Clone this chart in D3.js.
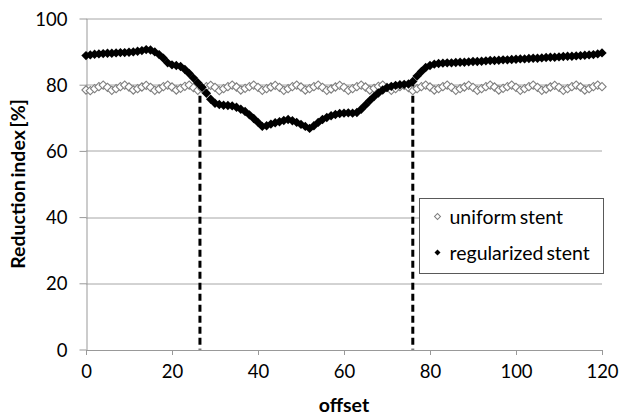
<!DOCTYPE html>
<html>
<head>
<meta charset="utf-8">
<script src="https://cdn.jsdelivr.net/npm/d3@7"></script>
<style>
  body { margin: 0; background: #fff; }
  text { font-family: Lato, "Open Sans", sans-serif; fill: #000; }
</style>
</head>
<body>
<svg id="chart" width="619" height="418"></svg>
<script>
// offsets 0..120, one value per offset
const offsets = d3.range(0, 121)

const uniformStent = [
  78.4, 78.2, 78.8, 79.4, 79.9,
  79.2, 78.3, 78.8, 79.4, 79.9,
  79.3, 78.4, 78.8, 79.3, 79.8,
  79.2, 78.3, 78.7, 79.4, 79.9,
  79.3, 78.4, 78.9, 79.5, 79.9,
  79.1, 78.3, 78.8, 79.4, 79.8,
  79.2, 78.2, 78.8, 79.4, 79.9,
  79.3, 78.4, 78.9, 79.4, 79.9,
  79.2, 78.3, 78.8, 79.3, 79.8,
  79.2, 78.3, 78.8, 79.4, 79.9,
  79.3, 78.4, 78.8, 79.4, 79.9,
  79.2, 78.3, 78.7, 79.3, 79.8,
  79.2, 78.3, 78.8, 79.4, 79.9,
  79.3, 78.4, 78.9, 79.5, 79.9,
  79.2, 78.3, 78.8, 79.4, 79.8,
  79.1, 78.2, 78.8, 79.4, 79.9,
  79.3, 78.4, 78.8, 79.4, 79.9,
  79.2, 78.3, 78.8, 79.3, 79.8,
  79.2, 78.3, 78.8, 79.4, 79.9,
  79.3, 78.4, 78.9, 79.4, 79.9,
  79.2, 78.3, 78.8, 79.4, 79.9,
  79.2, 78.3, 78.7, 79.3, 79.8,
  79.2, 78.3, 78.8, 79.4, 79.9,
  79.3, 78.4, 78.8, 79.4, 79.9,
  79.4
]

const regularizedStent = [
  88.8, 89.0, 89.2, 89.3, 89.4, 89.5, 89.5, 89.6, 89.7, 89.7,
  89.8, 89.9, 90.1, 90.3, 90.6, 90.5, 89.9, 89.1, 88.0, 86.6,
  86.0, 85.8, 85.5, 84.6, 83.4, 82.0, 80.6, 79.2, 77.4, 75.6,
  74.4, 74.0, 73.8, 73.7, 73.6, 73.2, 72.6, 71.9, 70.9, 69.8,
  68.6, 67.4, 67.6, 68.1, 68.5, 68.8, 69.2, 69.5, 69.1, 68.6,
  68.0, 67.4, 66.8, 67.6, 68.6, 69.5, 70.1, 70.6, 71.0, 71.3,
  71.4, 71.5, 71.4, 71.6, 72.6, 73.9, 75.2, 76.4, 77.5, 78.4,
  79.1, 79.5, 79.8, 80.0, 80.1, 80.2, 81.0, 82.6, 84.0, 85.2,
  85.8, 86.2, 86.4, 86.5, 86.6, 86.6, 86.7, 86.8, 86.8, 86.9,
  87.0, 87.0, 87.1, 87.2, 87.3, 87.3, 87.4, 87.5, 87.5, 87.6,
  87.7, 87.8, 87.8, 87.9, 88.0, 88.0, 88.1, 88.2, 88.3, 88.3,
  88.4, 88.5, 88.6, 88.6, 88.7, 88.8, 88.9, 89.0, 89.1, 89.3,
  89.6
]

// dashed markers where the curves cross
const crossings = [26.5, 76]
const crossingValue = 80

const xTicks = [0, 20, 40, 60, 80, 100, 120]
const yTicks = [0, 20, 40, 60, 80, 100]
const seriesNames = ['uniform stent', 'regularized stent']

const svg = d3.select('#chart')
const margin = { left: 86, right: 17, top: 18.5, bottom: 68.5 }
const width = 619 - margin.left - margin.right
const height = 418 - margin.top - margin.bottom

const x = d3.scaleLinear().domain([0, 120]).range([0, width])
const y = d3.scaleLinear().domain([0, 100]).range([height, 0])

const g = svg.append('g').attr('transform', `translate(${margin.left},${margin.top})`)

// gridlines
g.append('g')
  .selectAll('line')
  .data(yTicks.filter(d => d > 0))
  .enter()
  .append('line')
  .attr('x1', 0)
  .attr('x2', width)
  .attr('y1', d => Math.round(y(d)) + 0.5)
  .attr('y2', d => Math.round(y(d)) + 0.5)
  .attr('stroke', '#a6a6a6')
  .attr('stroke-width', 1)

// axes
const xAxis = g.append('g')
  .attr('transform', `translate(0,${Math.round(height) + 0.5})`)
  .call(d3.axisBottom(x).tickValues(xTicks).tickSize(5).tickSizeOuter(5).tickPadding(10))
const yAxis = g.append('g')
  .attr('transform', 'translate(0.5,0)')
  .call(d3.axisLeft(y).tickValues(yTicks).tickSize(7).tickSizeOuter(0).tickPadding(12))

;[xAxis, yAxis].forEach(a => {
  a.select('.domain').attr('stroke', '#999')
  a.selectAll('.tick line').attr('stroke', '#999')
  a.selectAll('.tick text')
    .style('font-family', 'Lato, sans-serif')
    .style('font-size', '18.5px')
    .attr('fill', '#000')
})
xAxis.selectAll('.tick line').attr('y1', 0)
yAxis.selectAll('.tick text').attr('dy', '0.36em')

// dashed crossing lines
g.append('g')
  .selectAll('line')
  .data(crossings)
  .enter()
  .append('line')
  .attr('x1', d => x(d))
  .attr('x2', d => x(d))
  .attr('y1', y(crossingValue))
  .attr('y2', y(0))
  .attr('stroke', '#000')
  .attr('stroke-width', 3)
  .attr('stroke-dasharray', '7,4')

const diamond = size => d3.symbol(d3.symbolSquare, size)

// uniform stent series
g.append('g')
  .selectAll('path')
  .data(offsets)
  .enter()
  .append('path')
  .attr('d', diamond(34)())
  .attr('transform', (d, i) => `translate(${x(d)},${y(uniformStent[i])}) rotate(45)`)
  .attr('fill', '#fff')
  .attr('stroke', '#7f7f7f')
  .attr('stroke-width', 1.1)

// regularized stent series
g.append('g')
  .selectAll('path')
  .data(offsets)
  .enter()
  .append('path')
  .attr('d', diamond(44)())
  .attr('transform', (d, i) => `translate(${x(d)},${y(regularizedStent[i])}) rotate(45)`)
  .attr('fill', '#000')

// legend
const legend = svg.append('g').attr('transform', 'translate(419.5,198.5)')
legend.append('rect')
  .attr('width', 184)
  .attr('height', 75)
  .attr('fill', '#fff')
  .attr('stroke', '#595959')
  .attr('stroke-width', 1)

const items = legend.selectAll('g.item')
  .data(seriesNames)
  .enter()
  .append('g')
  .attr('class', 'item')
  .attr('transform', (d, i) => `translate(18,${18 + i * 36})`)
items.append('path')
  .attr('d', diamond(18)())
  .attr('transform', 'rotate(45)')
  .attr('fill', (d, i) => i === 0 ? '#fff' : '#000')
  .attr('stroke', (d, i) => i === 0 ? '#7f7f7f' : 'none')
items.append('text')
  .attr('x', 12)
  .attr('dy', '0.36em')
  .style('font-size', '19.5px')
  .style('word-spacing', '-2px')
  .text(d => d)

// axis titles
svg.append('text')
  .attr('x', margin.left + width / 2)
  .attr('y', 412)
  .attr('text-anchor', 'middle')
  .style('font-size', '19.5px')
  .style('font-weight', 'bold')
  .text('offset')

svg.append('text')
  .attr('transform', `translate(25,${margin.top + height / 2}) rotate(-90)`)
  .attr('text-anchor', 'middle')
  .style('font-size', '19.5px')
  .style('font-weight', 'bold')
  .style('word-spacing', '-2px')
  .text('Reduction index [%]')
</script>
</body>
</html>
